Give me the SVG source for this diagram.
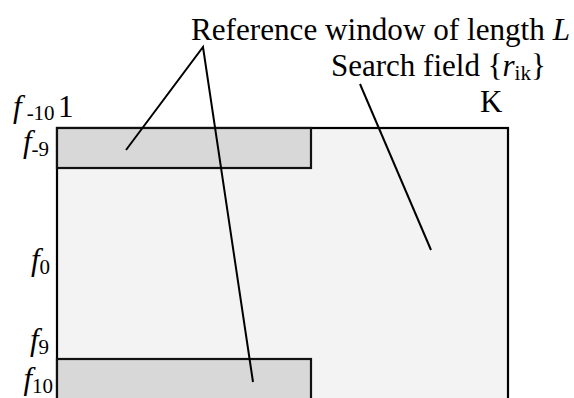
<svg xmlns="http://www.w3.org/2000/svg" width="574" height="398" viewBox="0 0 574 398">
<style>
.t{font-family:'Liberation Serif',serif;fill:#000;font-size:31px}
.it{font-style:italic}
.sub{font-size:21px}
.field{fill:#f2f3f2;stroke:#000;stroke-width:2.2}
.win{fill:#d8d8d8;stroke:#111;stroke-width:2.2}
.lead{stroke:#000;stroke-width:2;fill:none}
</style>
<rect width="574" height="398" fill="#fff"/>
<g id="search-field">
<rect class="field" x="57" y="128" width="451" height="290"/>
</g>
<g id="ref-window-top">
<rect class="win" x="57" y="128" width="254" height="40"/>
</g>
<g id="ref-window-bottom">
<rect class="win" x="57" y="359" width="254" height="60"/>
</g>
<g id="connectors">
<path class="lead" d="M126 150 L203 47 L253 382"/>
<path class="lead" d="M360 84 L431 250"/>
</g>
<g id="labels">
<text class="t" x="191" y="40" textLength="379" lengthAdjust="spacingAndGlyphs">Reference window of length <tspan class="it">L</tspan></text>
<text class="t" x="331" y="76">Search field {<tspan class="it">r</tspan><tspan class="sub" dy="4">ik</tspan><tspan dy="-4">}</tspan></text>
<text class="t" x="13" y="117"><tspan class="it">f</tspan><tspan class="sub" dx="5" dy="3">-10</tspan></text>
<text class="t" x="58" y="117">1</text>
<text class="t" x="480" y="112">K</text>
<text class="t" x="49" y="152" text-anchor="end"><tspan class="it">f</tspan><tspan class="sub" dy="4">-9</tspan></text>
<text class="t" x="50" y="270" text-anchor="end"><tspan class="it">f</tspan><tspan class="sub" dy="4">0</tspan></text>
<text class="t" x="49" y="350" text-anchor="end"><tspan class="it">f</tspan><tspan class="sub" dy="4">9</tspan></text>
<text class="t" x="53" y="389" text-anchor="end"><tspan class="it">f</tspan><tspan class="sub" dy="4">10</tspan></text>
</g>
</svg>
